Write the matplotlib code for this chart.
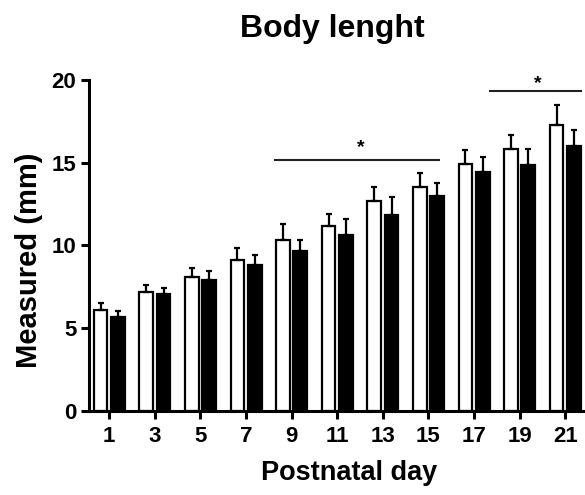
import numpy as np
import matplotlib.pyplot as plt

plt.rcParams['font.family'] = ['Liberation Sans', 'DejaVu Sans']
plt.rcParams['font.weight'] = 'bold'

days = ['1', '3', '5', '7', '9', '11', '13', '15', '17', '19', '21']
white_mean = [6.1, 7.15, 8.1, 9.1, 10.35, 11.15, 12.7, 13.55, 14.9, 15.8, 17.3]
white_err = [0.4, 0.45, 0.55, 0.75, 0.95, 0.75, 0.8, 0.85, 0.85, 0.9, 1.2]
black_mean = [5.65, 7.05, 7.9, 8.8, 9.65, 10.65, 11.85, 13.0, 14.45, 14.85, 16.0]
black_err = [0.4, 0.35, 0.55, 0.6, 0.7, 0.95, 1.1, 0.8, 0.9, 0.95, 1.0]

# significance brackets: start, end, height, star x, star baseline
sig_start = [3.63, 8.36]
sig_end = [7.24, 10.34]
sig_height = [15.17, 19.34]
star_x = [5.52, 9.39]
star_y = [15.65, 19.5]

x = np.arange(len(days))
w = 0.3
off = 0.19

fig = plt.figure(figsize=(5.85, 4.95), dpi=100)
ax = fig.add_axes([89 / 585, 1 - 410.7 / 495, (583 - 89) / 585, (410.7 - 80) / 495])

ax.bar(x - off, white_mean, w, color='white', edgecolor='black', linewidth=1.6, zorder=2)
ax.bar(x + off, black_mean, w, color='black', edgecolor='black', linewidth=1.6, zorder=2)
ax.errorbar(x - off, white_mean, yerr=[np.zeros(len(x)), white_err], fmt='none',
            ecolor='black', elinewidth=1.6, capsize=2, capthick=1.6, zorder=3)
ax.errorbar(x + off, black_mean, yerr=[np.zeros(len(x)), black_err], fmt='none',
            ecolor='black', elinewidth=1.6, capsize=2, capthick=1.6, zorder=3)

for x0, x1, h, sx, sy in zip(sig_start, sig_end, sig_height, star_x, star_y):
    ax.plot([x0, x1], [h, h], color='#222222', lw=1.5, clip_on=False)
    ax.text(sx, sy, '*', ha='center', va='baseline',
            fontsize=14, fontweight='bold', clip_on=False)

ax.set_xlim(-0.445, 10.39)
ax.set_ylim(0, 20)
ax.set_yticks([0, 5, 10, 15, 20])
ax.set_xticks(x)
ax.set_xticklabels(days)
ax.tick_params(axis='both', width=2.2, length=6, labelsize=16, direction='out')
ax.tick_params(axis='x', pad=5)
ax.tick_params(axis='y', pad=3)
for s in ['top', 'right']:
    ax.spines[s].set_visible(False)
for s in ['left', 'bottom']:
    ax.spines[s].set_linewidth(2.2)

fig.text(332 / 585, 1 - 37 / 495, 'Body lenght', ha='center', va='baseline',
         fontsize=23, fontweight='bold')
fig.text(29.5 / 585, 1 - 260 / 495, 'Measured (mm)', ha='center', va='center',
         rotation=90, fontsize=21, fontweight='bold')
fig.text(349 / 585, 1 - 480 / 495, 'Postnatal day', ha='center', va='baseline',
         fontsize=19.5, fontweight='bold')

fig.savefig('out.png', dpi=100)
